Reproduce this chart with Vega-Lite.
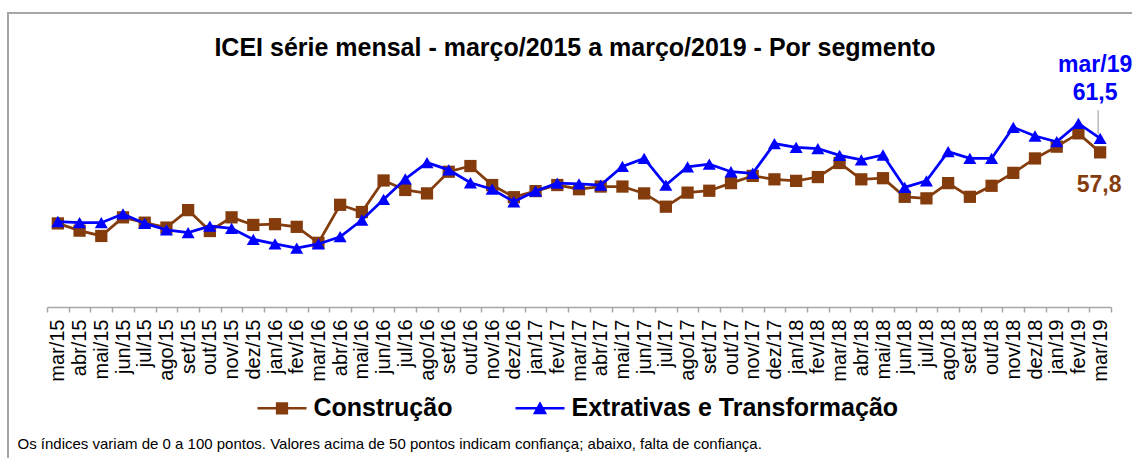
{
  "$schema": "https://vega.github.io/schema/vega-lite/v6.json",
  "autosize": {"type": "none"},
  "width": 1134,
  "height": 455,
  "padding": {"left": 8, "top": 13, "right": -10, "bottom": -10},
  "background": "white",
  "config": {
    "view": {"stroke": "#a6a6a6", "strokeWidth": 2},
    "font": "Liberation Sans"
  },
  "title": {
    "text": "ICEI série mensal - março/2015 a março/2019 - Por segmento",
    "font": "Liberation Sans",
    "fontSize": 25,
    "fontWeight": "bold",
    "color": "black",
    "anchor": "middle",
    "baseline": "alphabetic",
    "offset": -68
  },
  "datasets": {
    "icei": [
      {"mes": "mar/15", "Construção": 39.1, "Extrativas e Transformação": 39.6},
      {"mes": "abr/15", "Construção": 37.2, "Extrativas e Transformação": 39.3},
      {"mes": "mai/15", "Construção": 35.8, "Extrativas e Transformação": 39.3},
      {"mes": "jun/15", "Construção": 40.7, "Extrativas e Transformação": 41.6},
      {"mes": "jul/15", "Construção": 39.3, "Extrativas e Transformação": 39.1},
      {"mes": "ago/15", "Construção": 38.0, "Extrativas e Transformação": 37.4},
      {"mes": "set/15", "Construção": 42.6, "Extrativas e Transformação": 36.7},
      {"mes": "out/15", "Construção": 37.1, "Extrativas e Transformação": 38.4},
      {"mes": "nov/15", "Construção": 40.7, "Extrativas e Transformação": 37.8},
      {"mes": "dez/15", "Construção": 38.7, "Extrativas e Transformação": 34.9},
      {"mes": "jan/16", "Construção": 38.9, "Extrativas e Transformação": 33.7},
      {"mes": "fev/16", "Construção": 38.2, "Extrativas e Transformação": 32.6},
      {"mes": "mar/16", "Construção": 34.0, "Extrativas e Transformação": 33.7},
      {"mes": "abr/16", "Construção": 44.0, "Extrativas e Transformação": 35.6},
      {"mes": "mai/16", "Construção": 42.1, "Extrativas e Transformação": 40.0},
      {"mes": "jun/16", "Construção": 50.4, "Extrativas e Transformação": 45.4},
      {"mes": "jul/16", "Construção": 47.9, "Extrativas e Transformação": 50.8},
      {"mes": "ago/16", "Construção": 47.0, "Extrativas e Transformação": 55.1},
      {"mes": "set/16", "Construção": 52.7, "Extrativas e Transformação": 53.2},
      {"mes": "out/16", "Construção": 54.2, "Extrativas e Transformação": 49.8},
      {"mes": "nov/16", "Construção": 49.2, "Extrativas e Transformação": 48.1},
      {"mes": "dez/16", "Construção": 46.0, "Extrativas e Transformação": 44.8},
      {"mes": "jan/17", "Construção": 47.6, "Extrativas e Transformação": 47.6},
      {"mes": "fev/17", "Construção": 49.2, "Extrativas e Transformação": 49.7},
      {"mes": "mar/17", "Construção": 48.1, "Extrativas e Transformação": 49.5},
      {"mes": "abr/17", "Construção": 48.8, "Extrativas e Transformação": 49.2},
      {"mes": "mai/17", "Construção": 48.8, "Extrativas e Transformação": 54.1},
      {"mes": "jun/17", "Construção": 47.0, "Extrativas e Transformação": 56.2},
      {"mes": "jul/17", "Construção": 43.5, "Extrativas e Transformação": 49.2},
      {"mes": "ago/17", "Construção": 47.2, "Extrativas e Transformação": 54.0},
      {"mes": "set/17", "Construção": 47.7, "Extrativas e Transformação": 54.7},
      {"mes": "out/17", "Construção": 49.7, "Extrativas e Transformação": 52.7},
      {"mes": "nov/17", "Construção": 51.6, "Extrativas e Transformação": 52.3},
      {"mes": "dez/17", "Construção": 50.7, "Extrativas e Transformação": 60.1},
      {"mes": "jan/18", "Construção": 50.3, "Extrativas e Transformação": 59.1},
      {"mes": "fev/18", "Construção": 51.3, "Extrativas e Transformação": 58.8},
      {"mes": "mar/18", "Construção": 55.0, "Extrativas e Transformação": 57.0},
      {"mes": "abr/18", "Construção": 50.7, "Extrativas e Transformação": 55.8},
      {"mes": "mai/18", "Construção": 51.0, "Extrativas e Transformação": 57.1},
      {"mes": "jun/18", "Construção": 46.1, "Extrativas e Transformação": 48.6},
      {"mes": "jul/18", "Construção": 45.7, "Extrativas e Transformação": 50.3},
      {"mes": "ago/18", "Construção": 49.7, "Extrativas e Transformação": 58.0},
      {"mes": "set/18", "Construção": 46.1, "Extrativas e Transformação": 56.2},
      {"mes": "out/18", "Construção": 49.0, "Extrativas e Transformação": 56.2},
      {"mes": "nov/18", "Construção": 52.4, "Extrativas e Transformação": 64.4},
      {"mes": "dez/18", "Construção": 56.2, "Extrativas e Transformação": 62.1},
      {"mes": "jan/19", "Construção": 59.3, "Extrativas e Transformação": 60.6},
      {"mes": "fev/19", "Construção": 62.8, "Extrativas e Transformação": 65.4},
      {"mes": "mar/19", "Construção": 57.8, "Extrativas e Transformação": 61.5}
    ]
  },
  "encoding": {
    "x": {
      "field": "mes",
      "type": "ordinal",
      "bandPosition": 0.5,
      "scale": {
        "type": "band",
        "paddingInner": 0,
        "paddingOuter": 0,
        "range": [39, 1103],
        "domain": ["mar/15","abr/15","mai/15","jun/15","jul/15","ago/15","set/15","out/15","nov/15","dez/15","jan/16","fev/16","mar/16","abr/16","mai/16","jun/16","jul/16","ago/16","set/16","out/16","nov/16","dez/16","jan/17","fev/17","mar/17","abr/17","mai/17","jun/17","jul/17","ago/17","set/17","out/17","nov/17","dez/17","jan/18","fev/18","mar/18","abr/18","mai/18","jun/18","jul/18","ago/18","set/18","out/18","nov/18","dez/18","jan/19","fev/19","mar/19"]
      },
      "axis": {
        "orient": "bottom",
        "offset": -161,
        "grid": false,
        "domainColor": "#a6a6a6",
        "domainWidth": 1.5,
        "tickColor": "#a6a6a6",
        "tickWidth": 1.5,
        "tickSize": 5,
        "tickBand": "extent",
        "labelAngle": 270,
        "labelFont": "Liberation Sans",
        "labelFontSize": 20,
        "labelColor": "black",
        "labelPadding": 7,
        "labelOverlap": false,
        "title": "Os índices variam de 0 a 100 pontos. Valores acima de 50 pontos indicam confiança; abaixo, falta de confiança.",
        "titleFont": "Liberation Sans",
        "titleFontSize": 15,
        "titleFontWeight": "normal",
        "titleColor": "black",
        "titleAnchor": "start",
        "titleAlign": "left",
        "titleAngle": 0,
        "titleBaseline": "alphabetic",
        "titleX": 9,
        "titleY": 141
      }
    },
    "y": {
      "field": "valor",
      "type": "quantitative",
      "scale": {"domain": [-25.26, 94.47], "nice": false, "zero": false},
      "axis": null
    }
  },
  "layer": [
    {
      "data": {"name": "icei"},
      "transform": [{"fold": ["Construção", "Extrativas e Transformação"], "as": ["serie", "valor"]}],
      "layer": [
        {
          "transform": [{"filter": "datum.serie === 'Construção'"}],
          "mark": {"type": "line", "strokeWidth": 2.75, "color": "#843C0C"}
        },
        {
          "transform": [{"filter": "datum.serie === 'Construção'"}],
          "mark": {"type": "point", "shape": "square", "filled": true, "opacity": 1, "size": 150, "color": "#843C0C"}
        },
        {
          "transform": [{"filter": "datum.serie === 'Extrativas e Transformação'"}],
          "mark": {"type": "line", "strokeWidth": 2.75, "color": "#0000FF"}
        },
        {
          "transform": [{"filter": "datum.serie === 'Extrativas e Transformação'"}],
          "mark": {"type": "point", "shape": "triangle-up", "filled": true, "opacity": 1, "size": 170, "color": "#0000FF"}
        },
        {
          "transform": [{"filter": "datum.valor < -1000"}],
          "mark": {"type": "point", "filled": true, "opacity": 1},
          "encoding": {
            "color": {
              "field": "serie",
              "type": "nominal",
              "scale": {"domain": ["Construção", "Extrativas e Transformação"], "range": ["#843C0C", "#0000FF"]},
              "legend": {
                "title": null,
                "orient": "none",
                "direction": "horizontal",
                "legendX": 249.5,
                "legendY": 370.5,
                "padding": 0,
                "symbolSize": 2401,
                "symbolStrokeWidth": 0,
                "symbolOpacity": 1,
                "labelFont": "Liberation Sans",
                "labelFontSize": 25,
                "labelFontWeight": "bold",
                "labelColor": "black",
                "labelOffset": 7,
                "labelLimit": 600,
                "columnPadding": 63
              }
            },
            "shape": {
              "field": "serie",
              "type": "nominal",
              "scale": {
                "domain": ["Construção", "Extrativas e Transformação"],
                "range": [
                  "M-1,-0.055H1V0.055H-1Z M-0.25,-0.25H0.25V0.25H-0.25Z",
                  "M-1,-0.055H1V0.055H-1Z M0,-0.29L0.29,0.24L-0.29,0.24Z"
                ]
              },
              "legend": {
                "title": null,
                "orient": "none",
                "direction": "horizontal",
                "legendX": 249.5,
                "legendY": 370.5,
                "padding": 0,
                "symbolSize": 2401,
                "symbolStrokeWidth": 0,
                "symbolOpacity": 1,
                "labelFont": "Liberation Sans",
                "labelFontSize": 25,
                "labelFontWeight": "bold",
                "labelColor": "black",
                "labelOffset": 7,
                "labelLimit": 600,
                "columnPadding": 63
              }
            }
          }
        }
      ]
    },
    {
      "data": {"values": [{"mes": "mar/19", "valor": 61.5}]},
      "mark": {"type": "rule", "color": "#a6a6a6", "strokeWidth": 1.2, "yOffset": -28, "y2Offset": -4, "xOffset": -2},
      "encoding": {"y2": {"field": "valor"}}
    },
    {
      "data": {"values": [{"mes": "mar/19", "valor": 61.5}]},
      "mark": {"type": "text", "text": ["mar/19", "61,5"], "font": "Liberation Sans", "fontSize": 23, "fontWeight": "bold", "color": "#0000FF", "align": "center", "baseline": "alphabetic", "dx": -5, "dy": -66.6, "lineHeight": 28}
    },
    {
      "data": {"values": [{"mes": "mar/19", "valor": 57.8}]},
      "mark": {"type": "text", "text": "57,8", "font": "Liberation Sans", "fontSize": 23, "fontWeight": "bold", "color": "#843C0C", "align": "center", "baseline": "alphabetic", "dx": -1, "dy": 39.3}
    }
  ]
}
